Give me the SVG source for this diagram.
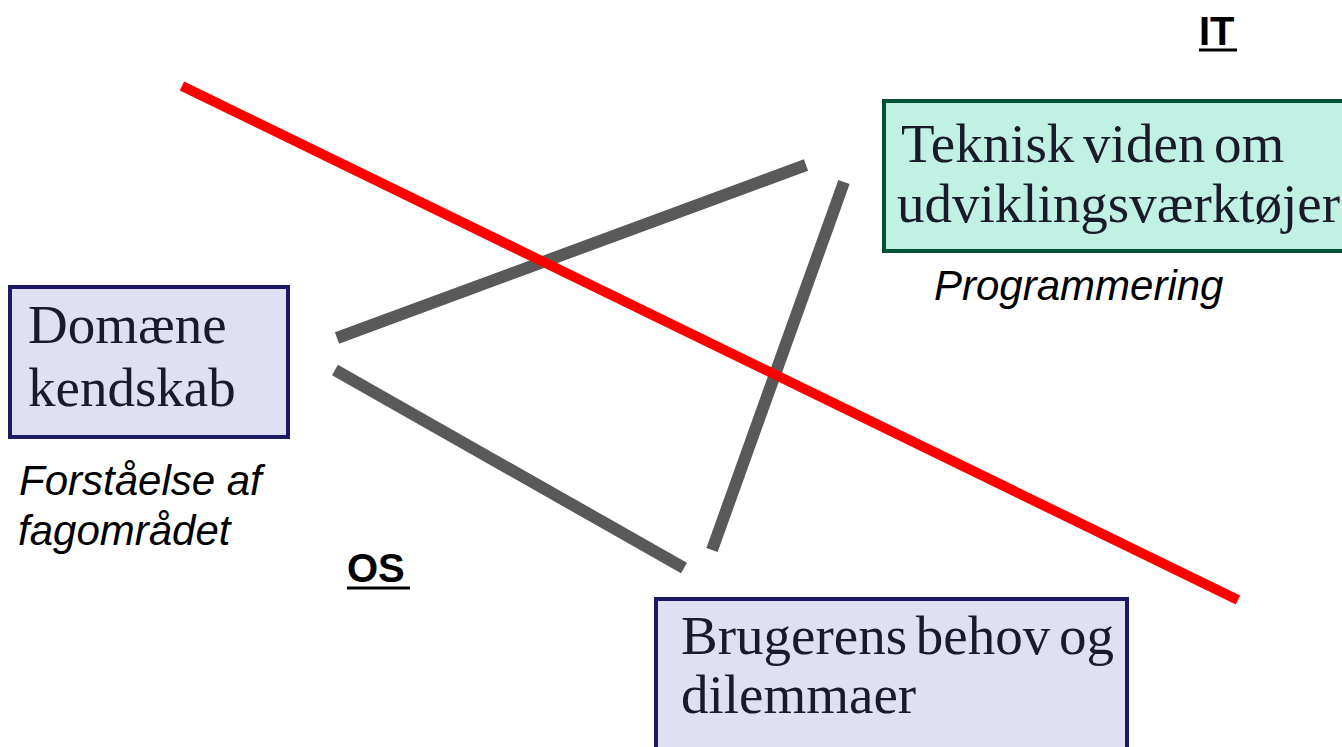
<svg xmlns="http://www.w3.org/2000/svg" width="1342" height="747" viewBox="0 0 1342 747">
<style>
.box-blue{fill:#E0E0F4;stroke:#1C1A66;stroke-width:4}
.box-green{fill:#C0F1E3;stroke:#005236;stroke-width:4}
.serif{font-family:"Liberation Serif","Times New Roman",serif;font-size:55px;word-spacing:-5px;fill:#1a1a2a}
.note{font-family:"Liberation Sans",Arial,sans-serif;font-style:italic;font-size:42px;fill:#000}
.head{font-family:"Liberation Sans",Arial,sans-serif;font-weight:bold;font-size:40px;fill:#000}
.conn{stroke:#595959;stroke-width:12;fill:none}
</style>
<rect width="1342" height="747" fill="#fff"/>
<g id="connectors">
<line class="conn" x1="337" y1="338" x2="806" y2="165"/>
<line class="conn" x1="335" y1="370" x2="684" y2="568"/>
<line class="conn" x1="844" y1="182" x2="712" y2="550"/>
</g>
<g id="node-teknisk">
<rect class="box-green" x="884" y="101" width="470" height="150"/>
<text class="serif" x="901" y="162" fill="#0f2a22">Teknisk viden om</text>
<text class="serif" x="897" y="222">udviklingsværktøjer</text>
</g>
<g id="node-domaene">
<rect class="box-blue" x="10" y="287" width="278" height="150"/>
<text class="serif" x="28" y="343">Domæne</text>
<text class="serif" x="28" y="406">kendskab</text>
</g>
<g id="node-brugerens">
<rect class="box-blue" x="656" y="599" width="471" height="170"/>
<text class="serif" x="681" y="654">Brugerens behov og</text>
<text class="serif" x="681" y="713">dilemmaer</text>
</g>
<g id="labels">
<text class="note" x="934" y="300">Programmering</text>
<text class="note" x="19" y="495">Forståelse af</text>
<text class="note" x="18" y="545">fagområdet</text>
<text class="head" x="1199" y="45">IT</text>
<line x1="1199" y1="50" x2="1237" y2="50" stroke="#000" stroke-width="3"/>
<text class="head" x="347" y="582">OS</text>
<line x1="347" y1="588" x2="410" y2="588" stroke="#000" stroke-width="3"/>
</g>
<g id="divider">
<line x1="182" y1="86" x2="1238" y2="600" stroke="#FF0000" stroke-width="10"/>
</g>
</svg>
